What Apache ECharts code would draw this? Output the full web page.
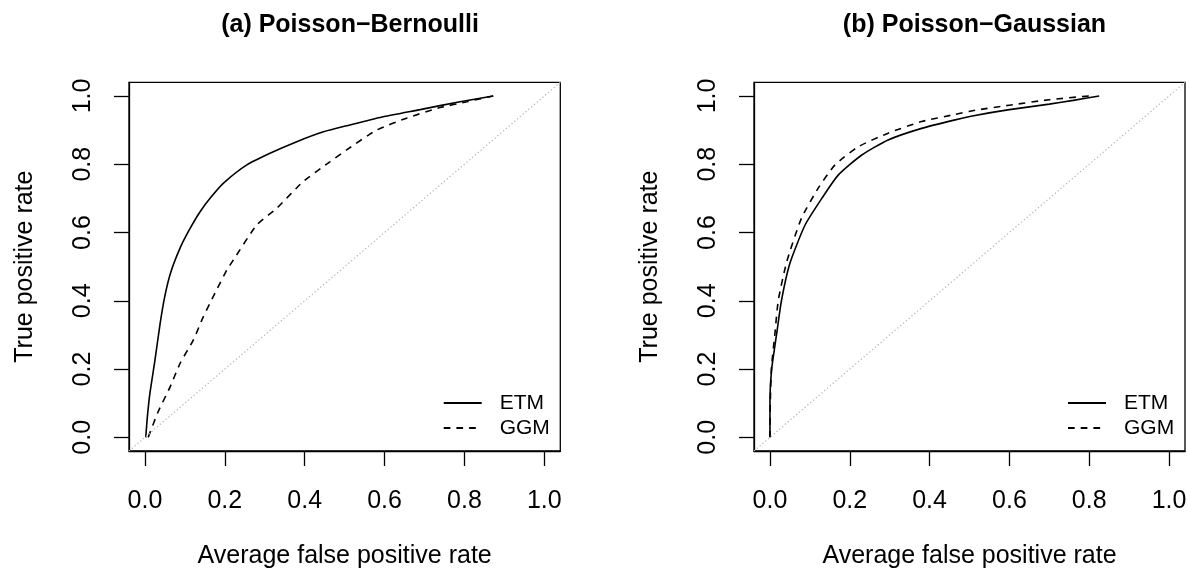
<!DOCTYPE html>
<html>
<head>
<meta charset="utf-8">
<script src="https://cdn.jsdelivr.net/npm/echarts@6/dist/echarts.min.js"></script>
<style>
html,body{margin:0;padding:0;background:#fff;}
#chart{width:1190px;height:575px;}
</style>
</head>
<body>
<div id="chart"></div>
<script>
// ---- data ----
const panelTitles = ['(a) Poisson\u2212Bernoulli', '(b) Poisson\u2212Gaussian'];
const xAxisTitle = 'Average false positive rate';
const yAxisTitle = 'True positive rate';
const tickValues = [0, 0.2, 0.4, 0.6, 0.8, 1.0];
const seriesNames = ['ETM', 'GGM'];

// (a) Poisson-Bernoulli
const pbEtmX = [0.002, 0.006, 0.0125, 0.025, 0.038, 0.05, 0.065, 0.09, 0.113, 0.138, 0.165, 0.196, 0.255, 0.313, 0.38, 0.447, 0.513, 0.589, 0.689, 0.789, 0.872];
const pbEtmY = [0.0, 0.06, 0.13, 0.226, 0.334, 0.415, 0.485, 0.56, 0.612, 0.661, 0.703, 0.744, 0.798, 0.832, 0.866, 0.895, 0.915, 0.937, 0.96, 0.983, 1.0];
const pbGgmX = [0.008, 0.033, 0.063, 0.088, 0.121, 0.146, 0.175, 0.205, 0.221, 0.28, 0.33, 0.396, 0.463, 0.505, 0.58, 0.655, 0.739, 0.806, 0.872];
const pbGgmY = [0.0, 0.075, 0.148, 0.217, 0.285, 0.353, 0.422, 0.49, 0.519, 0.622, 0.671, 0.749, 0.807, 0.842, 0.9, 0.935, 0.966, 0.983, 1.0];

// (b) Poisson-Gaussian
const pgEtmX = [0.0, 0.0, 0.004, 0.017, 0.029, 0.05, 0.088, 0.13, 0.171, 0.23, 0.296, 0.38, 0.464, 0.514, 0.6, 0.7, 0.76, 0.825];
const pgEtmY = [0.0, 0.11, 0.197, 0.305, 0.402, 0.51, 0.622, 0.70, 0.768, 0.827, 0.871, 0.905, 0.93, 0.943, 0.96, 0.976, 0.987, 1.0];
const pgGgmX = [0.0, 0.001, 0.004, 0.0125, 0.021, 0.042, 0.079, 0.121, 0.163, 0.221, 0.296, 0.38, 0.464, 0.514, 0.6, 0.7, 0.8];
const pgGgmY = [0.0, 0.11, 0.207, 0.305, 0.402, 0.514, 0.642, 0.73, 0.798, 0.851, 0.891, 0.925, 0.946, 0.958, 0.973, 0.989, 1.0];

const diagX = [-0.04, 1.04];
const diagY = [-0.04, 1.04];

// ---- build ----
const zip = (xs, ys) => xs.map((x, i) => [x, ys[i]]);
const FONT = '"Liberation Sans", Arial, Helvetica, sans-serif';
const BLACK = '#000';
const DASH = [6.7, 6];

const grids = [
  {left: 129, top: 82.3, width: 431.3, height: 368.7},
  {left: 754, top: 82.3, width: 431, height: 368.7}
];

function xAxisFor(i) {
  return {
    gridIndex: i, type: 'value', min: -0.04, max: 1.04,
    axisLine: {show: true, onZero: false, lineStyle: {color: BLACK, width: 1.3}},
    axisTick: {show: true, inside: false, customValues: tickValues, length: 15, lineStyle: {color: BLACK, width: 1.3}},
    axisLabel: {customValues: tickValues, formatter: v => v.toFixed(1), margin: 38, fontSize: 25, color: BLACK, fontFamily: FONT},
    splitLine: {show: false},
    name: xAxisTitle, nameLocation: 'middle', nameGap: 93,
    nameTextStyle: {fontSize: 25, color: BLACK, fontFamily: FONT}
  };
}
function yAxisFor(i) {
  return {
    gridIndex: i, type: 'value', min: -0.04, max: 1.04,
    axisLine: {show: true, onZero: false, lineStyle: {color: BLACK, width: 1.3}},
    axisTick: {show: true, inside: false, customValues: tickValues, length: 15, lineStyle: {color: BLACK, width: 1.3}},
    axisLabel: {customValues: tickValues, formatter: v => v.toFixed(1), margin: 33, fontSize: 25, color: BLACK, fontFamily: FONT, rotate: 90},
    splitLine: {show: false},
    name: yAxisTitle, nameLocation: 'middle', nameGap: 91,
    nameTextStyle: {fontSize: 25, color: BLACK, fontFamily: FONT}
  };
}

const panelData = [
  [zip(pbEtmX, pbEtmY), zip(pbGgmX, pbGgmY)],
  [zip(pgEtmX, pgEtmY), zip(pgGgmX, pgGgmY)]
];

const series = [];
panelData.forEach((pd, i) => {
  series.push({
    type: 'line', name: seriesNames[0], xAxisIndex: i, yAxisIndex: i,
    data: pd[0], symbol: 'none', smooth: 0.2, clip: false,
    lineStyle: {color: BLACK, width: 1.6, type: 'solid'}, itemStyle: {color: BLACK}
  });
  series.push({
    type: 'line', name: seriesNames[1], xAxisIndex: i, yAxisIndex: i,
    data: pd[1], symbol: 'none', smooth: 0.2, clip: false,
    lineStyle: {color: BLACK, width: 1.6, type: DASH}, itemStyle: {color: BLACK}
  });
  series.push({
    type: 'line', name: 'diag' + i, xAxisIndex: i, yAxisIndex: i,
    data: zip(diagX, diagY), symbol: 'none', silent: true,
    lineStyle: {color: '#b4b4b4', width: 1.2, type: [1.3, 2.4]}
  });
});

function legendFor(left) {
  return {
    data: [{name: seriesNames[0]}, {name: seriesNames[1], lineStyle: {type: DASH}}],
    orient: 'vertical', left: left, top: 390.5,
    itemWidth: 38, itemHeight: 25, itemGap: 0, padding: 0,
    itemStyle: {color: 'rgba(0,0,0,0)', borderWidth: 0, opacity: 0},
    textStyle: {fontSize: 21, color: BLACK, fontFamily: FONT, padding: [0, 0, 0, 13], lineHeight: 25},
    selectedMode: false
  };
}

const chart = echarts.init(document.getElementById('chart'), null, {renderer: 'canvas'});
chart.setOption({
  animation: false,
  backgroundColor: '#fff',
  title: [
    {text: panelTitles[0], left: 345, top: 8, textAlign: 'center',
     textStyle: {fontSize: 25, fontWeight: 'bold', color: BLACK, fontFamily: FONT}},
    {text: panelTitles[1], left: 969.5, top: 8, textAlign: 'center',
     textStyle: {fontSize: 25, fontWeight: 'bold', color: BLACK, fontFamily: FONT}}
  ],
  grid: grids.map(g => Object.assign({show: true, borderColor: BLACK, borderWidth: 1.3, backgroundColor: 'transparent'}, g)),
  xAxis: [xAxisFor(0), xAxisFor(1)],
  yAxis: [yAxisFor(0), yAxisFor(1)],
  legend: [legendFor(442.7), legendFor(1067)],
  series: series
});
</script>
</body>
</html>
